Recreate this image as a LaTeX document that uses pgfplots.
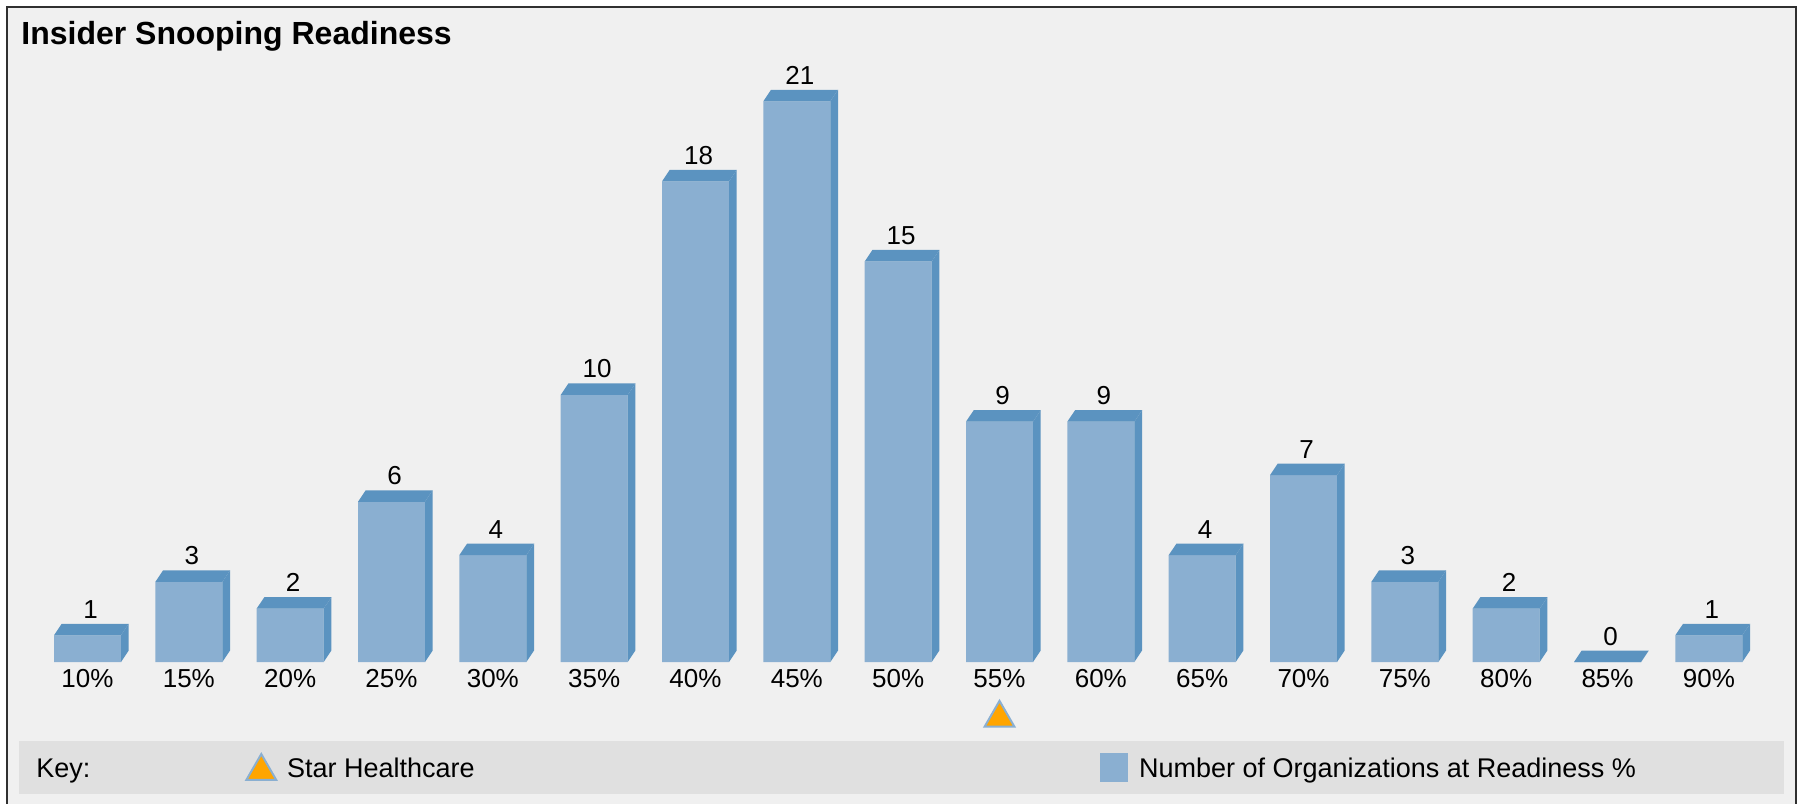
\documentclass[border=0pt]{standalone}
\usepackage{pgfplots}
\usepackage{pgfplotstable}
\pgfplotsset{compat=1.18}
\usepackage{fontspec}
\setmainfont{Liberation Sans}
\definecolor{frontc}{HTML}{8AAFD1}
\definecolor{topc}{HTML}{5B93C0}
\definecolor{bgc}{HTML}{F0F0F0}
\definecolor{keyc}{HTML}{E0E0E0}
\definecolor{starc}{HTML}{FFA500}
\definecolor{framec}{HTML}{303030}

\pgfdeclareplotmark{bar3d}{%
  \pgfmathsetmacro\barh{\rawy*13.35}%
  \pgfmathsetmacro\sidey{5.75-\barh}%
  \pgfmathsetmacro\frontb{-\barh}%
  \pgfsetfillcolor{topc}%
  \pgfpathmoveto{\pgfqpoint{-16.75pt}{0pt}}%
  \pgfpathlineto{\pgfqpoint{16.75pt}{0pt}}%
  \pgfpathlineto{\pgfqpoint{20.6pt}{5.75pt}}%
  \pgfpathlineto{\pgfqpoint{-12.9pt}{5.75pt}}%
  \pgfpathclose
  \pgfusepath{fill}%
  \pgfpathmoveto{\pgfqpoint{16.75pt}{0pt}}%
  \pgfpathlineto{\pgfqpoint{20.6pt}{5.75pt}}%
  \pgfpathlineto{\pgfqpoint{20.6pt}{\sidey pt}}%
  \pgfpathlineto{\pgfqpoint{16.75pt}{\frontb pt}}%
  \pgfpathclose
  \pgfusepath{fill}%
}

\pgfplotsset{
  startri legend/.style={legend image code/.code={\draw[##1] plot coordinates {(8pt,-2pt)};}},
  square legend/.style={legend image code/.code={\fill[frontc] (0pt,-7.25pt) rectangle (14pt,7.25pt);}},
}

\pgfplotstableread{
x y
0 1
1 3
2 2
3 6
4 4
5 10
6 18
7 21
8 15
9 9
10 9
11 4
12 7
13 3
14 2
15 0
16 1
}\datatable

\begin{document}
\begin{tikzpicture}
\path[use as bounding box, fill=white] (0,0) rectangle (904pt,401.5pt);
\begin{scope}[yshift=401.5pt, x=0.5pt, y=-0.5pt]
\fill[bgc] (7,7) rectangle (1796,830);
\draw[framec, line width=1pt] (7,830) -- (7,7) -- (1796,7) -- (1796,830);
\fill[keyc] (19,741) rectangle (1784,794);
\node[anchor=base west, inner sep=0pt, font=\bfseries\fontsize{16}{19}\selectfont] at (21,45) {Insider Snooping Readiness};
\node[anchor=base west, inner sep=0pt, font=\fontsize{13.5}{16}\selectfont] at (36,777) {Key:};
\end{scope}
\begin{axis}[
  at={(13.35pt,70.5pt)}, anchor=south west,
  x=50.6667pt, y=13.35pt,
  xmin=-0.6, xmax=16.6, ymin=0, ymax=22.5,
  clip=false,
  axis line style={draw=none},
  tick style={draw=none},
  major tick length=0pt,
  ytick=\empty,
  xtick={0,...,16},
  xticklabels={10\%,15\%,20\%,25\%,30\%,35\%,40\%,45\%,50\%,55\%,60\%,65\%,70\%,75\%,80\%,85\%,90\%},
  xticklabel style={anchor=base, yshift=-12.5pt, inner sep=0pt, font=\fontsize{13}{15}\selectfont},
  /pgf/number format/assume math mode=true,
  legend columns=2,
  legend style={at={(axis description cs:0.12583,-0.1752)}, anchor=west, draw=none, fill=none,
    inner sep=0pt, column sep=3pt, nodes={inner sep=0pt, text depth=0pt},
    font=\fontsize{13.5}{16}\selectfont, cells={anchor=west}},
]
\addplot[only marks, mark=triangle*, mark size=8.6pt,
  mark options={fill=starc, draw=frontc, line width=1pt}, startri legend]
  coordinates {(9,-2.1)};
\addlegendentry{\hspace*{2.5pt}\makebox[403.5pt][l]{Star Healthcare}}
\addplot[ybar, bar width=33.5pt, bar shift=0pt, fill=frontc, draw=none, square legend]
  table[x=x, y=y] {\datatable};
\addlegendentry{\hspace*{2.5pt}Number of Organizations at Readiness \%}
\addplot[forget plot, only marks, mark=bar3d,
  visualization depends on={rawy \as \rawy},
  nodes near coords,
  every node near coord/.style={anchor=base, yshift=8.5pt, xshift=1.5pt, inner sep=0pt,
    font=\fontsize{13}{15}\selectfont, text=black}]
  table[x=x, y=y] {\datatable};
\end{axis}
\end{tikzpicture}
\end{document}
